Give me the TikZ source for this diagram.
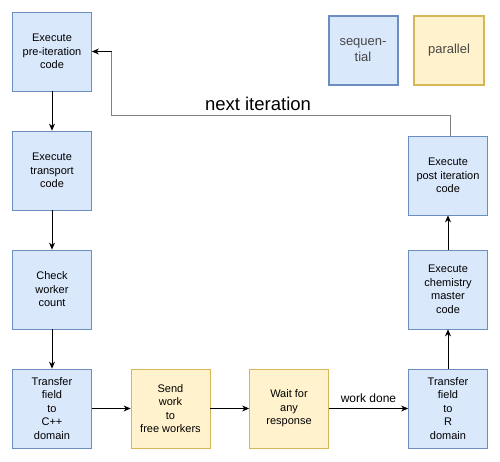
\documentclass[tikz,border=0pt]{standalone}
\usepackage{fontspec}
\setmainfont{Liberation Sans}
\usetikzlibrary{arrows.meta}
\definecolor{bfill}{HTML}{DAE8FC}
\definecolor{bdraw}{HTML}{6C8EBF}
\definecolor{yfill}{HTML}{FFF2CC}
\definecolor{ydraw}{HTML}{D6B656}
\definecolor{gline}{HTML}{808080}
\begin{document}
\begin{tikzpicture}[x=1pt,y=-1pt,
  seqbox/.style={draw=bdraw,fill=bfill,line width=0.8pt,minimum width=79pt,minimum height=79pt,inner sep=0pt,align=center,font=\fontsize{11}{13.5}\selectfont},
  parbox/.style={draw=ydraw,fill=yfill,line width=0.8pt,minimum width=79pt,minimum height=79pt,inner sep=0pt,align=center,font=\fontsize{11}{13.5}\selectfont},
  flow/.style={draw=black,line width=0.8pt,-{Stealth[length=7pt,width=6pt]}},
  lgseq/.style={draw=bdraw,fill=bfill,line width=2pt,minimum width=69pt,minimum height=69pt,inner sep=0pt,align=center,text=black!72,font=\fontsize{13}{16}\selectfont},
  lgpar/.style={draw=ydraw,fill=yfill,line width=2pt,minimum width=70pt,minimum height=69pt,inner sep=0pt,align=center,text=black!72,font=\fontsize{13}{16}\selectfont}
]
\useasboundingbox (0,0) rectangle (500,461);
\node[seqbox] (pre) at (52,51.5) {Execute\\pre-iteration\\code};
\node[seqbox] (trans) at (52,170.5) {Execute\\transport\\code};
\node[seqbox] (check) at (52,289.5) {Check\\worker\\count};
\node[seqbox] (tcpp) at (52,408.5) {Transfer\\field\\to\\C++\\domain};
\node[parbox] (send) at (170.5,408.5) {Send\\work\\to\\free workers};
\node[parbox] (wait) at (289,408.5) {Wait for\\any\\response};
\node[seqbox] (tr) at (448,408.5) {Transfer\\field\\to\\R\\domain};
\node[seqbox] (chem) at (448,289.5) {Execute\\chemistry\\master\\code};
\node[seqbox] (post) at (448,175.5) {Execute\\post iteration\\code};
\node[lgseq] (lseq) at (363,50.5) {sequen-\\tial};
\node[lgpar] (lpar) at (449,50.5) {parallel};
\draw[flow] (pre) -- (trans);
\draw[flow] (trans) -- (check);
\draw[flow] (check) -- (tcpp);
\draw[flow] (tcpp) -- (send);
\draw[flow] (send) -- (wait);
\draw[flow] (wait) -- node[above=2pt,font=\fontsize{12}{13}\selectfont] (wd) {work done} (tr);
\draw[flow] (tr) -- (chem);
\draw[flow] (chem) -- (post);
\coordinate (c1) at (450,115);
\coordinate (c2) at (111.5,115);
\draw[draw=gline,line width=0.8pt] (post.north -| c1) -- (c1) -- (c2) -- (c2 |- pre.east);
\draw[flow] (c2 |- pre.east) -- (pre.east);
\node[font=\fontsize{18.5}{20}\selectfont,anchor=base] (ni) at (258,110) {next iteration};
\end{tikzpicture}
\end{document}
